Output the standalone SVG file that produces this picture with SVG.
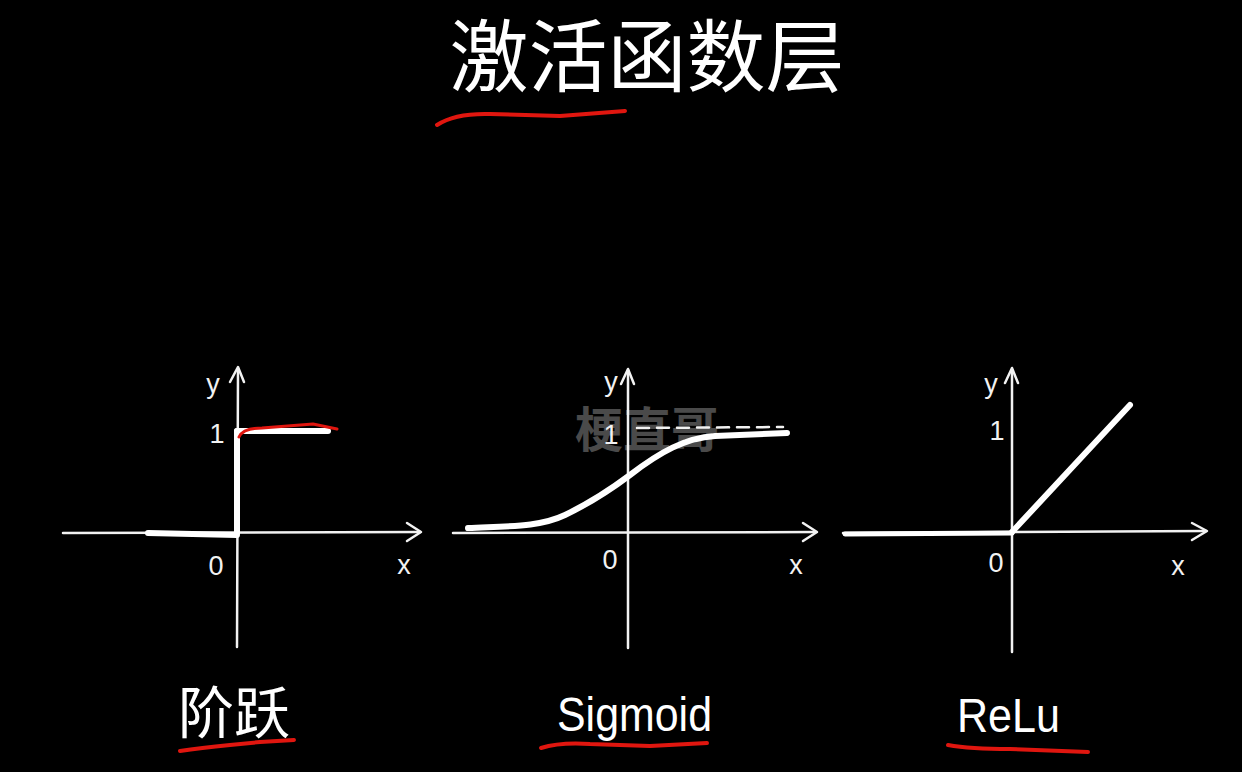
<svg xmlns="http://www.w3.org/2000/svg" width="1242" height="772" viewBox="0 0 1242 772">
<style>
.ax{fill:none;stroke:#f2f2f2;stroke-width:2.5;stroke-linecap:round;stroke-linejoin:round}
.cv{fill:none;stroke:#ffffff;stroke-width:6;stroke-linecap:round;stroke-linejoin:round}
.red{fill:none;stroke:#e0160f;stroke-width:4;stroke-linecap:round;stroke-linejoin:round}
.lb{fill:#f2f2f2;font-family:"Liberation Sans","DejaVu Sans",sans-serif;font-size:27px;text-anchor:middle}
.nm{fill:#ffffff;font-family:"Liberation Sans","Noto Sans CJK SC",sans-serif;font-size:48px}
.cjk{fill:#ffffff;font-family:"Noto Sans CJK SC","Noto Sans CJK JP",sans-serif}
</style>
<rect width="1242" height="772" fill="#000"/>
<g id="title">
<text class="cjk" x="647" y="86" font-size="79" text-anchor="middle">激活函数层</text>
<path class="red" d="M437,125 Q455,113 490,114 L560,116 L625,111"/>
</g>
<g id="step">
<path class="ax" d="M63,533 L420,532"/>
<path class="ax" d="M407,523 L421,532 L407,541"/>
<path class="ax" d="M237,647 L238,369"/>
<path class="ax" d="M230,382 L238,367 L244,382"/>
<path class="cv" d="M148,533 L237,535"/>
<path class="cv" d="M237,533 L237,431"/>
<path class="cv" d="M237,431 L328,431"/>
<path class="red" style="stroke-width:3" d="M239,437 Q243,428 262,428 L313,424 L337,429"/>
<text class="lb" x="213" y="393">y</text>
<text class="lb" x="217" y="443">1</text>
<text class="lb" x="216" y="575">0</text>
<text class="lb" x="404" y="574">x</text>
<text class="cjk" x="178" y="733" font-size="56">阶跃</text>
<path class="red" d="M180,751 Q200,748 230,745 L260,742 L294,740"/>
</g>
<g id="sigmoid">
<text x="575" y="447" font-size="48" fill="#4a4a4a" font-family="Noto Sans CJK SC,sans-serif" font-weight="bold">梗直哥</text>
<path class="ax" d="M453,533 L815,532"/>
<path class="ax" d="M803,523 L817,532 L803,541"/>
<path class="ax" d="M628,648 L628,370"/>
<path class="ax" d="M621,384 L628,369 L634,384"/>
<path class="ax" style="stroke-dasharray:12 8" d="M637,428 L783,427"/>
<path class="cv" d="M468,528 C510,526 540,527 565,515 C590,503 610,490 630,475 C660,452 685,438 715,436 L787,433"/>
<text class="lb" x="611" y="391">y</text>
<text class="lb" x="611" y="444">1</text>
<text class="lb" x="610" y="569">0</text>
<text class="lb" x="796" y="574">x</text>
<text class="nm" x="557" y="731" textLength="155" lengthAdjust="spacingAndGlyphs">Sigmoid</text>
<path class="red" d="M541,748 Q560,742 590,744 L650,746 L707,743"/>
</g>
<g id="relu">
<path class="ax" d="M843,533 L1206,531"/>
<path class="ax" d="M1192,523 L1207,531 L1192,540"/>
<path class="ax" d="M1012,652 L1012,370"/>
<path class="ax" d="M1005,383 L1012,368 L1018,383"/>
<path class="cv" style="stroke-width:5" d="M845,534 L1012,533"/>
<path class="cv" d="M1012,532 L1130,405"/>
<text class="lb" x="991" y="393">y</text>
<text class="lb" x="997" y="440">1</text>
<text class="lb" x="996" y="572">0</text>
<text class="lb" x="1178" y="575">x</text>
<text class="nm" x="957" y="732" textLength="103" lengthAdjust="spacingAndGlyphs">ReLu</text>
<path class="red" d="M948,745 Q970,749 1010,749 L1088,752"/>
</g>
</svg>
